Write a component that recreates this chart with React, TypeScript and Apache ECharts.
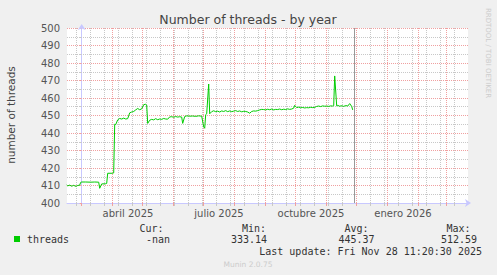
import React, { useEffect, useRef } from "react";
import * as echarts from "echarts";

// ---- data ----
const DATES = [
  "2025-02-14", "2025-02-15", "2025-02-17", "2025-02-19", "2025-02-21", "2025-02-23", "2025-02-25", "2025-02-27", "2025-02-28",
  "2025-03-01", "2025-03-05", "2025-03-10", "2025-03-14", "2025-03-18", "2025-03-19", "2025-03-21", "2025-03-25", "2025-03-26",
  "2025-03-27", "2025-04-01", "2025-04-02", "2025-04-03", "2025-04-04", "2025-04-06", "2025-04-08", "2025-04-10", "2025-04-12",
  "2025-04-14", "2025-04-16", "2025-04-18", "2025-04-20", "2025-04-22", "2025-04-24", "2025-04-26", "2025-04-28", "2025-04-30",
  "2025-05-02", "2025-05-04", "2025-05-05", "2025-05-06", "2025-05-08", "2025-05-10", "2025-05-12", "2025-05-14", "2025-05-16",
  "2025-05-18", "2025-05-20", "2025-05-22", "2025-05-24", "2025-05-26", "2025-05-28", "2025-05-30", "2025-06-01", "2025-06-03",
  "2025-06-05", "2025-06-07", "2025-06-09", "2025-06-10", "2025-06-12", "2025-06-14", "2025-06-17", "2025-06-20", "2025-06-23",
  "2025-06-26", "2025-06-29", "2025-07-01", "2025-07-02", "2025-07-03", "2025-07-04", "2025-07-06", "2025-07-07", "2025-07-09",
  "2025-07-11", "2025-07-13", "2025-07-15", "2025-07-17", "2025-07-19", "2025-07-21", "2025-07-23", "2025-07-25", "2025-07-27",
  "2025-07-29", "2025-07-31", "2025-08-02", "2025-08-04", "2025-08-06", "2025-08-08", "2025-08-10", "2025-08-12", "2025-08-14",
  "2025-08-16", "2025-08-18", "2025-08-20", "2025-08-22", "2025-08-24", "2025-08-26", "2025-08-28", "2025-08-30", "2025-09-01",
  "2025-09-03", "2025-09-05", "2025-09-07", "2025-09-09", "2025-09-11", "2025-09-13", "2025-09-15", "2025-09-17", "2025-09-19",
  "2025-09-21", "2025-09-23", "2025-09-25", "2025-09-27", "2025-09-29", "2025-09-30", "2025-10-02", "2025-10-04", "2025-10-06",
  "2025-10-08", "2025-10-10", "2025-10-12", "2025-10-14", "2025-10-16", "2025-10-18", "2025-10-20", "2025-10-22", "2025-10-24",
  "2025-10-26", "2025-10-28", "2025-10-30", "2025-11-01", "2025-11-03", "2025-11-05", "2025-11-07", "2025-11-08", "2025-11-09",
  "2025-11-11", "2025-11-12", "2025-11-14", "2025-11-16", "2025-11-18", "2025-11-20", "2025-11-22", "2025-11-24", "2025-11-26",
  "2025-11-27",
];
const THREADS = [
  410.3, 409.8, 410.2, 409.6, 410.1, 409.5, 410.0, 410.2, 411.8,
  412.0, 412.0, 411.9, 412.0, 411.9, 408.4, 410.9, 411.0, 411.2,
  417.0, 417.0, 417.2, 445.0, 444.8, 447.5, 448.3, 448.0, 448.5,
  448.0, 448.2, 451.5, 452.0, 452.3, 453.2, 454.0, 453.3, 453.8,
  456.2, 456.4, 456.0, 445.5, 447.3, 447.8, 447.5, 448.2, 447.6,
  448.0, 447.8, 448.3, 448.0, 447.9, 449.2, 449.3, 449.0, 449.4,
  449.1, 449.3, 449.1, 445.5, 449.4, 449.8, 449.6, 449.7, 449.5,
  449.8, 449.6, 443.5, 442.7, 450.5, 451.0, 468.0, 451.0, 452.2,
  452.7, 452.2, 452.5, 452.0, 452.6, 452.3, 452.8, 452.2, 452.6,
  452.2, 452.5, 452.8, 452.3, 452.6, 452.1, 452.4, 452.3, 452.0,
  451.3, 452.3, 452.6, 452.5, 452.8, 453.2, 453.5, 453.4, 453.2,
  453.6, 453.3, 453.7, 453.2, 453.5, 453.4, 453.7, 453.3, 453.6,
  453.4, 453.8, 453.5, 453.7, 454.2, 455.8, 454.5, 454.8, 454.4,
  454.6, 454.3, 454.5, 454.4, 454.7, 454.5, 454.6, 455.2, 455.4,
  455.1, 455.5, 455.3, 455.4, 455.2, 455.5, 455.4, 455.6, 472.6,
  455.5, 455.8, 455.3, 455.6, 455.2, 455.7, 455.4, 456.8, 455.2,
  453.2,
];

const MONTH_STARTS = [
  "2025-03-01", "2025-04-01", "2025-05-01", "2025-06-01", "2025-07-01", "2025-08-01", "2025-09-01",
  "2025-10-01", "2025-11-01", "2025-12-01", "2026-01-01", "2026-02-01", "2026-03-01",
];
const LABEL_MONTHS = ["2025-04-01", "2025-07-01", "2025-10-01", "2026-01-01"];
const LABEL_TEXTS = ["abril 2025", "julio 2025", "octubre 2025", "enero 2026"];
const FIRST_MINOR = "2025-02-24";
const NOW = "2025-11-28T11:20:30Z";
const X_START = "2025-02-14T07:12:00Z";
const X_END = "2026-03-22T07:12:00Z";

const Y_MIN = 400;
const Y_MAX = 500;
const Y_STEP = 10;

const TITLE = "Number of threads - by year";
const Y_NAME = "number of threads";
const SERIES_NAME = "threads";
const STAT_HEADS = ["Cur:", "Min:", "Avg:", "Max:"];
const STAT_VALUES = ["-nan", "333.14", "445.37", "512.59"];
const LAST_UPDATE = "Last update: Fri Nov 28 11:20:30 2025";
const VERSION = "Munin 2.0.75";
const WATERMARK = "RRDTOOL / TOBI OETIKER";

// ---- helpers ----
const ORIGIN = Date.UTC(2025, 2, 1);
const DAY = 86400000;
const toDay = (s: string) =>
  (Date.parse(s.length === 10 ? s + "T00:00:00Z" : s) - ORIGIN) / DAY;

export default function App() {
  const ref = useRef<HTMLDivElement>(null);

  useEffect(() => {
    if (!ref.current) return;
    const chart = echarts.init(ref.current, undefined, { renderer: "svg" });

    const xMin = toDay(X_START);
    const xMax = toDay(X_END);
    const majors = MONTH_STARTS.map(toDay);
    const minors: number[] = [];
    for (let d = toDay(FIRST_MINOR); d < xMax; d += 14) minors.push(d);
    const labelDays = LABEL_MONTHS.map((m) => toDay(m) + 15.3);
    const nowDay = toDay(NOW);

    const data = DATES.map((d, i) => [toDay(d), THREADS[i]]);

    const font = "DejaVu Sans";
    const mono = "DejaVu Sans Mono";
    const majorColor = "#f0a0a0";
    const minorColor = "#c8c8c8";
    const axisColor = "#c8c8ff";

    const statX = [163.5, 266, 368.5, 470.5];
    const valX = [170, 267, 374.5, 477];

    const graphics: any[] = [
      {
        type: "text", x: 248, y: 19.5,
        style: { text: TITLE, fontFamily: font, fontSize: 12.5, fill: "#444", align: "center", verticalAlign: "middle" },
      },
      {
        type: "text", x: 11, y: 115, rotation: Math.PI / 2,
        style: { text: Y_NAME, fontFamily: font, fontSize: 10.5, fill: "#444", align: "center", verticalAlign: "middle" },
      },
      {
        type: "text", x: 488, y: 53, rotation: -Math.PI / 2,
        style: { text: WATERMARK, fontFamily: font, fontSize: 7, fill: "#cccccc", align: "center", verticalAlign: "middle" },
      },
      { type: "rect", shape: { x: 14, y: 236, width: 6, height: 6 }, style: { fill: "#00cc00" } },
      {
        type: "text", x: 27, y: 239.5,
        style: { text: SERIES_NAME, fontFamily: mono, fontSize: 10, fill: "#333", align: "left", verticalAlign: "middle" },
      },
      ...STAT_HEADS.map((t, i) => ({
        type: "text", x: statX[i], y: 228,
        style: { text: t, fontFamily: mono, fontSize: 10, fill: "#333", align: "right", verticalAlign: "middle" },
      })),
      ...STAT_VALUES.map((t, i) => ({
        type: "text", x: valX[i], y: 239.5,
        style: { text: t, fontFamily: mono, fontSize: 10, fill: "#333", align: "right", verticalAlign: "middle" },
      })),
      {
        type: "text", x: 482, y: 251,
        style: { text: LAST_UPDATE, fontFamily: mono, fontSize: 10, fill: "#333", align: "right", verticalAlign: "middle" },
      },
      {
        type: "text", x: 248, y: 264,
        style: { text: VERSION, fontFamily: font, fontSize: 7.5, fill: "#cccccc", align: "center", verticalAlign: "middle" },
      },
    ];

    const dotted = (color: string) => ({ color, width: 1, type: [1, 1] as any });

    chart.setOption({
      animation: false,
      backgroundColor: "#f0f0f0",
      grid: {
        left: 67, top: 28, width: 401, height: 175,
        show: true, backgroundColor: "#ffffff", borderWidth: 0,
      },
      xAxis: [
        {
          // minor (2-week) grid
          type: "value", min: xMin, max: xMax, position: "bottom",
          axisLine: { show: false },
          axisTick: { show: true, customValues: minors, length: 3, lineStyle: { color: minorColor } },
          axisLabel: { show: false },
          splitLine: { show: true, lineStyle: dotted(minorColor) },
        },
        {
          // major (monthly) grid with labels
          type: "value", min: xMin, max: xMax, position: "bottom", offset: 0,
          axisLine: {
            show: true, onZero: false, lineStyle: { color: axisColor, width: 1 },
            symbol: ["none", "arrow"], symbolSize: [6, 6], symbolOffset: [0, 3],
          },
          axisTick: { show: true, customValues: majors, length: 3, lineStyle: { color: majorColor } },
          axisLabel: {
            show: true, customValues: labelDays, margin: 5,
            fontFamily: font, fontSize: 10, color: "#555",
            formatter: (v: number) => {
              let best = 0;
              labelDays.forEach((d, i) => { if (Math.abs(d - v) < Math.abs(labelDays[best] - v)) best = i; });
              return LABEL_TEXTS[best];
            },
          },
          splitLine: { show: true, lineStyle: dotted(majorColor) },
        },
      ],
      yAxis: {
        type: "value", min: Y_MIN, max: Y_MAX, interval: Y_STEP,
        axisLine: {
          show: true, lineStyle: { color: axisColor, width: 1 },
          symbol: ["none", "arrow"], symbolSize: [6, 6], symbolOffset: [0, 4],
        },
        axisTick: { show: true, length: 2, lineStyle: { color: majorColor } },
        minorTick: { show: true, splitNumber: 2, length: 2, lineStyle: { color: minorColor } },
        axisLabel: { fontFamily: font, fontSize: 10, color: "#555", margin: 7 },
        splitLine: { show: true, lineStyle: dotted(majorColor) },
        minorSplitLine: { show: true, lineStyle: dotted(minorColor) },
      },
      series: [
        {
          name: SERIES_NAME, type: "line", data: data, z: 3, xAxisIndex: 1,
          symbol: "none", showSymbol: false,
          lineStyle: { color: "#00cc00", width: 1 },
        },
      ],
      graphic: graphics,
    });

    // "now" marker, placed through the x axis scale
    const px = chart.convertToPixel({ xAxisIndex: 1 }, nowDay) as number;
    const nx = Math.floor(px) + 0.5;
    chart.setOption({
      graphic: [
        ...graphics,
        {
          type: "line", z: 1, silent: true,
          shape: { x1: nx, y1: 28, x2: nx, y2: 203 },
          style: { stroke: "#999999", lineWidth: 1 },
        },
      ],
    });

    return () => chart.dispose();
  }, []);

  return (
    <div
      ref={ref}
      style={{ position: "fixed", left: 0, top: 0, width: 497, height: 275 }}
    />
  );
}
